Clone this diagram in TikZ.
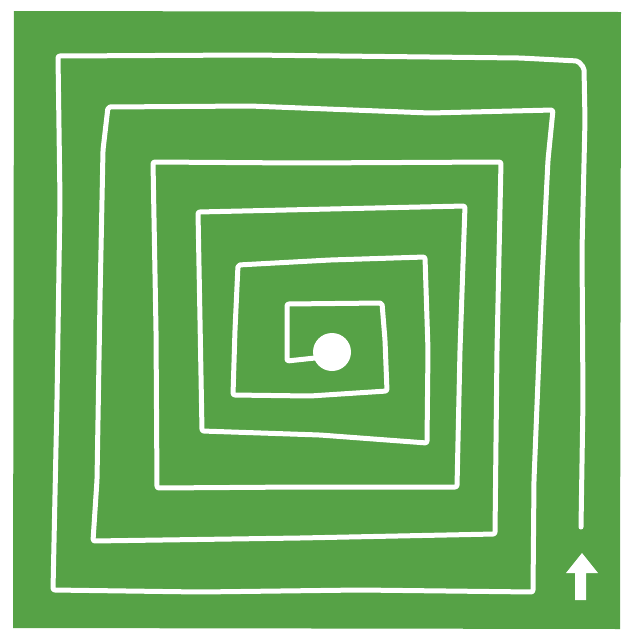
\documentclass[tikz,border=0pt]{standalone}
\usetikzlibrary{arrows.meta}
\definecolor{lawn}{RGB}{86,162,70}

\begin{document}
\begin{tikzpicture}[x=1pt,y=-1pt,
  trail/.style={draw=white, line width=5pt, line cap=round, line join=round, rounded corners=2pt}]
\useasboundingbox (0,0) rectangle (626,633);
\fill[lawn] (14,11) -- (621,12) -- (620,629) -- (13,628) -- cycle;
% the spiral, from the start near the arrow in to the dot
\draw[trail] (581,527) -- (583,400) -- (582,250) -- (585,120) -- (584,68) -- (578,61)
  -- (520,58) -- (430,57) -- (250,55) -- (58,56)
  -- (60,200) -- (57,400) -- (53,590)
  -- (200,592) -- (360,590) -- (533,592)
  -- (534,480) -- (542,280) -- (548,160) -- (553,110)
  -- (430,113) -- (250,106) -- (108,107)
  -- (103,150) -- (100,300) -- (97,480) -- (93,541)
  -- (300,538) -- (495,534)
  -- (497,350) -- (501,162)
  -- (300,163) -- (153,162)
  -- (156,330) -- (157,488)
  -- (300,487) -- (457,487)
  -- (460,350) -- (465,206)
  -- (330,209) -- (198,212)
  -- (200,320) -- (202,431)
  -- (320,435) -- (427,443)
  -- (428,350) -- (425,257)
  -- (330,260) -- (238,265)
  -- (235,330) -- (233,395)
  -- (310,396) -- (387,391)
  -- (385,340) -- (382,303)
  -- (287,304)
  -- (287,361) -- (315,358);
\fill[white] (332,352) circle (19);
% arrow at the start
\fill[white] (582,553) -- (598,573) -- (586,573) -- (586,600) -- (575,600) -- (575,573) -- (566,573) -- cycle;
\end{tikzpicture}
\end{document}
